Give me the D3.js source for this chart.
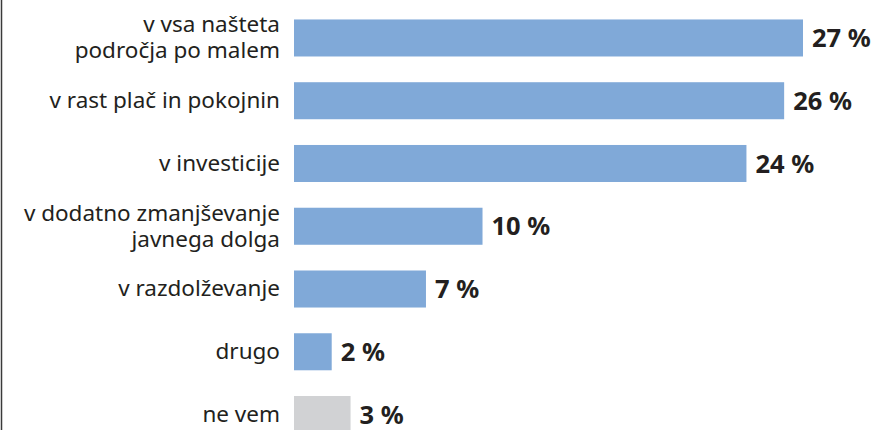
<!DOCTYPE html>
<html>
<head>
<meta charset="utf-8">
<script src="https://cdn.jsdelivr.net/npm/d3@7"></script>
<style>
  body { margin: 0; background: #fff; }
  svg { display: block; }
</style>
</head>
<body>
<div class="card"></div>
<script>
/* global d3*/

var categories = [
    ["v vsa našteta", "področja po malem"],
    ["v rast plač in pokojnin"],
    ["v investicije"],
    ["v dodatno zmanjševanje", "javnega dolga"],
    ["v razdolževanje"],
    ["drugo"],
    ["ne vem"]
];
var values = [27, 26, 24, 10, 7, 2, 3];
var valueLabels = ["27 %", "26 %", "24 %", "10 %", "7 %", "2 %", "3 %"];
var isOther = [false, false, false, false, false, false, true];

var width = 880,
    height = 430;

var svg = d3.select(".card").append("svg")
    .attr("width", width)
    .attr("height", height);

// left frame line
svg.append("line")
    .attr("x1", 1.5).attr("x2", 1.5)
    .attr("y1", 0).attr("y2", height)
    .attr("stroke", "#3a3a3a")
    .attr("stroke-width", 1.5);

var x = d3.scaleLinear()
    .domain([0, 27])
    .range([294, 803]);

var y = d3.scaleBand()
    .domain(d3.range(categories.length))
    .range([0, 452.5])
    .paddingInner(0.41)
    .paddingOuter(0.31);

var rows = svg.selectAll(".row").data(values).enter().append("g")
    .attr("class", "row");

rows.append("rect")
    .attr("x", x(0))
    .attr("y", function(d, i) { return y(i); })
    .attr("width", function(d) { return x(d) - x(0); })
    .attr("height", y.bandwidth())
    .attr("fill", function(d, i) { return isOther[i] ? "#d1d2d4" : "#80a9d8"; });

rows.append("text")
    .attr("x", function(d) { return x(d) + 9; })
    .attr("y", function(d, i) { return y(i) + y.bandwidth() / 2; })
    .attr("dy", "0.36em")
    .style("font-family", "'Noto Sans', sans-serif")
    .style("font-weight", "bold")
    .style("font-size", "25.5px")
    .style("fill", "#231f20")
    .text(function(d, i) { return valueLabels[i]; });

var labels = rows.append("text")
    .attr("text-anchor", "end")
    .style("font-family", "'Noto Sans', sans-serif")
    .style("font-size", "22.5px")
    .style("fill", "#231f20");

labels.each(function(d, i) {
    var lines = categories[i];
    var cy = y(i) + y.bandwidth() / 2;
    var lh = 26;
    var start = cy - (lines.length - 1) * lh / 2;
    for (var k = 0; k < lines.length; k++) {
        d3.select(this).append("tspan")
            .attr("x", 280)
            .attr("y", start + k * lh)
            .attr("dy", "0.33em")
            .text(lines[k]);
    }
});
</script>
</body>
</html>
